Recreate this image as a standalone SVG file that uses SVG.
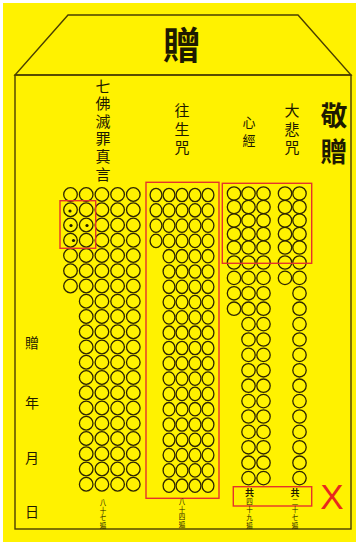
<svg xmlns="http://www.w3.org/2000/svg" width="358" height="542" viewBox="0 0 358 542">
<style>
.env{fill:none;stroke:#4a3f00;stroke-width:1.4}
.c{fill:none;stroke:#2e2600;stroke-width:1.3}
.box{fill:none;stroke:#e5342b;stroke-width:1.4}
.t{font-family:"Noto Sans CJK TC","Noto Sans CJK SC",sans-serif;fill:#1e1a00}
.v{writing-mode:vertical-rl;text-orientation:upright}
.dot{fill:#1e1a00}
</style>
<defs>
<g id="L5" class="c"><circle cx="0" cy="0" r="6.8"/><circle cx="15.7" cy="0" r="6.8"/><circle cx="31.4" cy="0" r="6.8"/><circle cx="47.1" cy="0" r="6.8"/><circle cx="62.8" cy="0" r="6.8"/></g>
<g id="L4" class="c"><circle cx="0" cy="0" r="6.8"/><circle cx="15.7" cy="0" r="6.8"/><circle cx="31.4" cy="0" r="6.8"/><circle cx="47.1" cy="0" r="6.8"/></g>
<g id="M5" class="c"><ellipse cx="0" cy="0" rx="5.9" ry="6.7"/><ellipse cx="13" cy="0" rx="5.9" ry="6.7"/><ellipse cx="26" cy="0" rx="5.9" ry="6.7"/><ellipse cx="39" cy="0" rx="5.9" ry="6.7"/><ellipse cx="52" cy="0" rx="5.9" ry="6.7"/></g>
<g id="M4" class="c"><ellipse cx="0" cy="0" rx="5.9" ry="6.7"/><ellipse cx="13" cy="0" rx="5.9" ry="6.7"/><ellipse cx="26" cy="0" rx="5.9" ry="6.7"/><ellipse cx="39" cy="0" rx="5.9" ry="6.7"/></g>
<g id="RA" class="c"><circle cx="0" cy="0" r="6.7"/><circle cx="14.5" cy="0" r="6.7"/><circle cx="29.5" cy="0" r="6.7"/><circle cx="51" cy="0" r="6.7"/><circle cx="65.5" cy="0" r="6.7"/></g>
<g id="RB" class="c"><circle cx="0" cy="0" r="6.7"/><circle cx="14.5" cy="0" r="6.7"/><circle cx="29.5" cy="0" r="6.7"/><circle cx="65.5" cy="0" r="6.7"/></g>
<g id="RC" class="c"><circle cx="14.5" cy="0" r="6.7"/><circle cx="29.5" cy="0" r="6.7"/><circle cx="65.5" cy="0" r="6.7"/></g>
</defs>
<rect x="3" y="3" width="353" height="539" fill="#fff200"/>
<g id="envelope">
<polygon class="env" points="68,15 298,15 351,75 15,75"/>
<rect class="env" x="15" y="75" width="336" height="454"/>
</g>
<g id="title"><text class="t" x="182" y="59" font-size="38" font-weight="bold" text-anchor="middle">贈</text></g>
<g id="label-qifo"><text class="t v" x="103" y="78.5" font-size="15" letter-spacing="2.6">七佛滅罪真言</text></g>
<g id="label-wangsheng"><text class="t v" x="182" y="103" font-size="15" letter-spacing="3.5">往生咒</text></g>
<g id="label-xinjing"><text class="t v" x="249" y="115.5" font-size="13" letter-spacing="5">心經</text></g>
<g id="label-dabei"><text class="t v" x="292" y="103" font-size="15" letter-spacing="3.5">大悲咒</text></g>
<g id="label-jingzeng"><text class="t v" x="334" y="102.5" font-size="27" font-weight="bold" letter-spacing="8.5">敬贈</text></g>
<g id="label-date" class="t" font-size="14" text-anchor="middle">
<text x="32" y="348">贈</text><text x="32" y="408">年</text><text x="32" y="463">月</text><text x="32" y="517">日</text>
</g>
<g id="grid-qifo">
<use href="#L5" x="70.5" y="194.5"/><use href="#L5" x="70.5" y="209.75"/><use href="#L5" x="70.5" y="225"/><use href="#L5" x="70.5" y="240.25"/><use href="#L5" x="70.5" y="255.5"/><use href="#L5" x="70.5" y="270.75"/><use href="#L5" x="70.5" y="286"/>
<use href="#L4" x="86.2" y="301.25"/><use href="#L4" x="86.2" y="316.5"/><use href="#L4" x="86.2" y="331.75"/><use href="#L4" x="86.2" y="347"/><use href="#L4" x="86.2" y="362.25"/><use href="#L4" x="86.2" y="377.5"/><use href="#L4" x="86.2" y="392.75"/><use href="#L4" x="86.2" y="408"/><use href="#L4" x="86.2" y="423.25"/><use href="#L4" x="86.2" y="438.5"/><use href="#L4" x="86.2" y="453.75"/><use href="#L4" x="86.2" y="469"/><use href="#L4" x="86.2" y="484.25"/>
<circle class="dot" cx="70" cy="211" r="1.6"/><circle class="dot" cx="71" cy="225.5" r="1.6"/><circle class="dot" cx="87" cy="225.5" r="1.6"/><circle class="dot" cx="73.5" cy="240.5" r="1.6"/>
</g>
<g id="grid-wangsheng">
<use href="#M5" x="156" y="195"/><use href="#M5" x="156" y="210.3"/><use href="#M5" x="156" y="225.6"/><use href="#M5" x="156" y="240.9"/>
<use href="#M4" x="169" y="256.2"/><use href="#M4" x="169" y="271.5"/><use href="#M4" x="169" y="286.8"/><use href="#M4" x="169" y="302.1"/><use href="#M4" x="169" y="317.4"/><use href="#M4" x="169" y="332.7"/><use href="#M4" x="169" y="348"/><use href="#M4" x="169" y="363.3"/><use href="#M4" x="169" y="378.6"/><use href="#M4" x="169" y="393.9"/><use href="#M4" x="169" y="409.2"/><use href="#M4" x="169" y="424.5"/><use href="#M4" x="169" y="439.8"/><use href="#M4" x="169" y="455.1"/><use href="#M4" x="169" y="470.4"/><use href="#M4" x="169" y="485.7"/>
</g>
<g id="grid-xinjing-dabei">
<use href="#RA" x="234" y="193.5"/><use href="#RA" x="234" y="207"/><use href="#RA" x="234" y="220.5"/><use href="#RA" x="234" y="234"/><use href="#RA" x="234" y="247.5"/><use href="#RA" x="234" y="262.5"/><use href="#RA" x="234" y="277.9"/>
<use href="#RB" x="234" y="293.3"/><use href="#RB" x="234" y="308.7"/>
<use href="#RC" x="234" y="324.1"/><use href="#RC" x="234" y="339.5"/><use href="#RC" x="234" y="354.9"/><use href="#RC" x="234" y="370.3"/><use href="#RC" x="234" y="385.7"/><use href="#RC" x="234" y="401.1"/><use href="#RC" x="234" y="416.5"/><use href="#RC" x="234" y="431.9"/><use href="#RC" x="234" y="447.3"/><use href="#RC" x="234" y="462.7"/><use href="#RC" x="234" y="478.1"/>
</g>
<g id="red-boxes">
<rect class="box" x="60" y="200.7" width="35.7" height="47.6"/>
<rect class="box" x="146" y="182.3" width="73" height="316"/>
<rect class="box" x="222.3" y="183.3" width="89.4" height="80"/>
<rect class="box" x="233.3" y="486.7" width="78.4" height="19.3"/>
</g>
<g id="count-qifo"><text class="t v" x="103" y="499.75" font-size="6.5" letter-spacing="1">八十七遍</text></g>
<g id="count-wangsheng"><text class="t v" x="182" y="498" font-size="6.5" letter-spacing="1.3">八十四遍</text></g>
<g id="count-xinjing">
<text class="t v" x="249.5" y="488.5" font-size="9" font-weight="bold">共</text>
<text class="t v" x="249.5" y="498.25" font-size="6.5" letter-spacing="1.5">四十九遍</text>
</g>
<g id="count-dabei">
<text class="t v" x="295" y="488.5" font-size="9" font-weight="bold">共</text>
<text class="t v" x="295" y="498.25" font-size="6.5" letter-spacing="1.5">二十七遍</text>
</g>
<g id="mark-x"><text x="332" y="509" font-family="Liberation Sans,Arial,sans-serif" font-size="35" fill="#e8281e" text-anchor="middle">X</text></g>
</svg>
